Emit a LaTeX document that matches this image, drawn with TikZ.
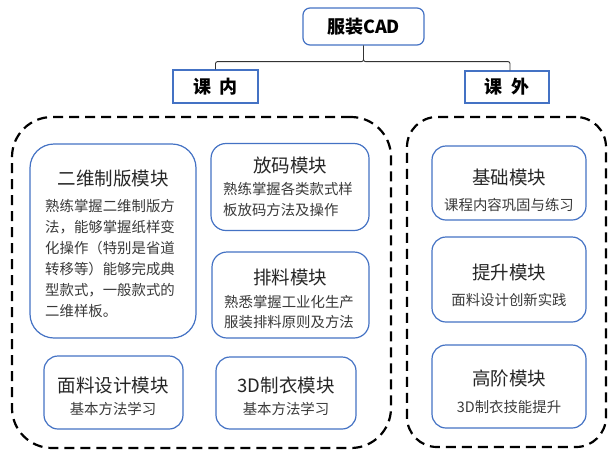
\documentclass[tikz,border=0pt]{standalone}
\usepackage{fontspec}
\setmainfont{Noto Sans CJK SC}
\definecolor{boxblue}{HTML}{4472C4}
\definecolor{txtdark}{HTML}{262626}
\definecolor{txtbody}{HTML}{3A3A3A}
\begin{document}
\begin{tikzpicture}[x=1pt,y=-1pt,
  mod/.style={draw=boxblue, line width=1.2pt, fill=white, inner sep=0pt},
  region/.style={draw=black, line width=2.2pt, dash pattern=on 10pt off 6pt, inner sep=0pt, rounded corners=40pt},
  head/.style={draw=boxblue, line width=1.2pt, fill=white, inner sep=0pt, font=\fontsize{18}{20}\selectfont\bfseries, text=black},
  ttl/.style={font=\fontsize{18.5}{22}\selectfont, text=txtdark, inner sep=0pt},
  body/.style={font=\fontsize{14.4}{21}\selectfont, text=txtbody, inner sep=0pt, align=left},
  link/.style={draw=black!80, line width=0.9pt, rounded corners=2pt}
]
\useasboundingbox (0,0) rectangle (610,451);

% dashed regions
\node[region, minimum width=379pt, minimum height=331pt] (inner) at (201.5,282.5) {};
\node[region, minimum width=199pt, minimum height=330pt, rounded corners=30pt] (outer) at (506.5,282) {};

% header boxes
\node[head, rounded corners=7pt, minimum width=121pt, minimum height=37pt] (top) at (363.5,26.5) {服装CAD};
\node[head, minimum width=85pt, minimum height=33pt] (kn) at (215.5,86.5) {课\hspace{0.45em}内};
\node[head, minimum width=84pt, minimum height=32pt] (kw) at (507,87) {课\hspace{0.45em}外};

\draw[link] (top.south) -- ++(0,16) -| (kn.north);
\draw[link] (top.south) -- ++(0,16) -| ([xshift=3pt]kw.north);

% left modules
\node[mod, rounded corners=24pt, minimum width=166pt, minimum height=194pt] (m1) at (113,241) {};
\node[ttl] (m1t) at (113,178) {二维制版模块};
\node[body, anchor=north west] (m1b) at (45,199) {熟练掌握二维制版方\\法，能够掌握纸样变\\化操作（特别是省道\\转移等）能够完成典\\型款式，一般款式的\\二维样板。};

\node[mod, rounded corners=15pt, minimum width=158pt, minimum height=87pt] (m2) at (290,187) {};
\node[ttl] (m2t) at (290,165) {放码模块};
\node[body, anchor=north west] (m2b) at (223,182) {熟练掌握各类款式样\\板放码方法及操作};

\node[mod, rounded corners=15pt, minimum width=157pt, minimum height=86pt] (m3) at (290.5,295) {};
\node[ttl] (m3t) at (290,277) {排料模块};
\node[body, anchor=north west, font=\fontsize{14.4}{20}\selectfont] (m3b) at (224,295) {熟悉掌握工业化生产\\服装排料原则及方法};

\node[mod, rounded corners=14pt, minimum width=139pt, minimum height=73pt] (m4) at (113.5,392.5) {};
\node[ttl] (m4t) at (113,385) {面料设计模块};
\node[body] (m4b) at (113,409) {基本方法学习};

\node[mod, rounded corners=14pt, minimum width=140pt, minimum height=72pt] (m5) at (286,393) {};
\node[ttl] (m5t) at (286,385) {3D制衣模块};
\node[body] (m5b) at (286,409) {基本方法学习};

% right modules
\node[mod, rounded corners=14pt, minimum width=154pt, minimum height=74pt] (r1) at (509,183) {};
\node[ttl] (r1t) at (509,177) {基础模块};
\node[body] (r1b) at (509,205) {课程内容巩固与练习};

\node[mod, rounded corners=14pt, minimum width=154pt, minimum height=85pt] (r2) at (509,279.5) {};
\node[ttl] (r2t) at (509,272) {提升模块};
\node[body] (r2b) at (509,300) {面料设计创新实践};

\node[mod, rounded corners=14pt, minimum width=154pt, minimum height=83pt] (r3) at (509,386.5) {};
\node[ttl] (r3t) at (509,378) {高阶模块};
\node[body] (r3b) at (509,407) {3D制衣技能提升};
\end{tikzpicture}
\end{document}
